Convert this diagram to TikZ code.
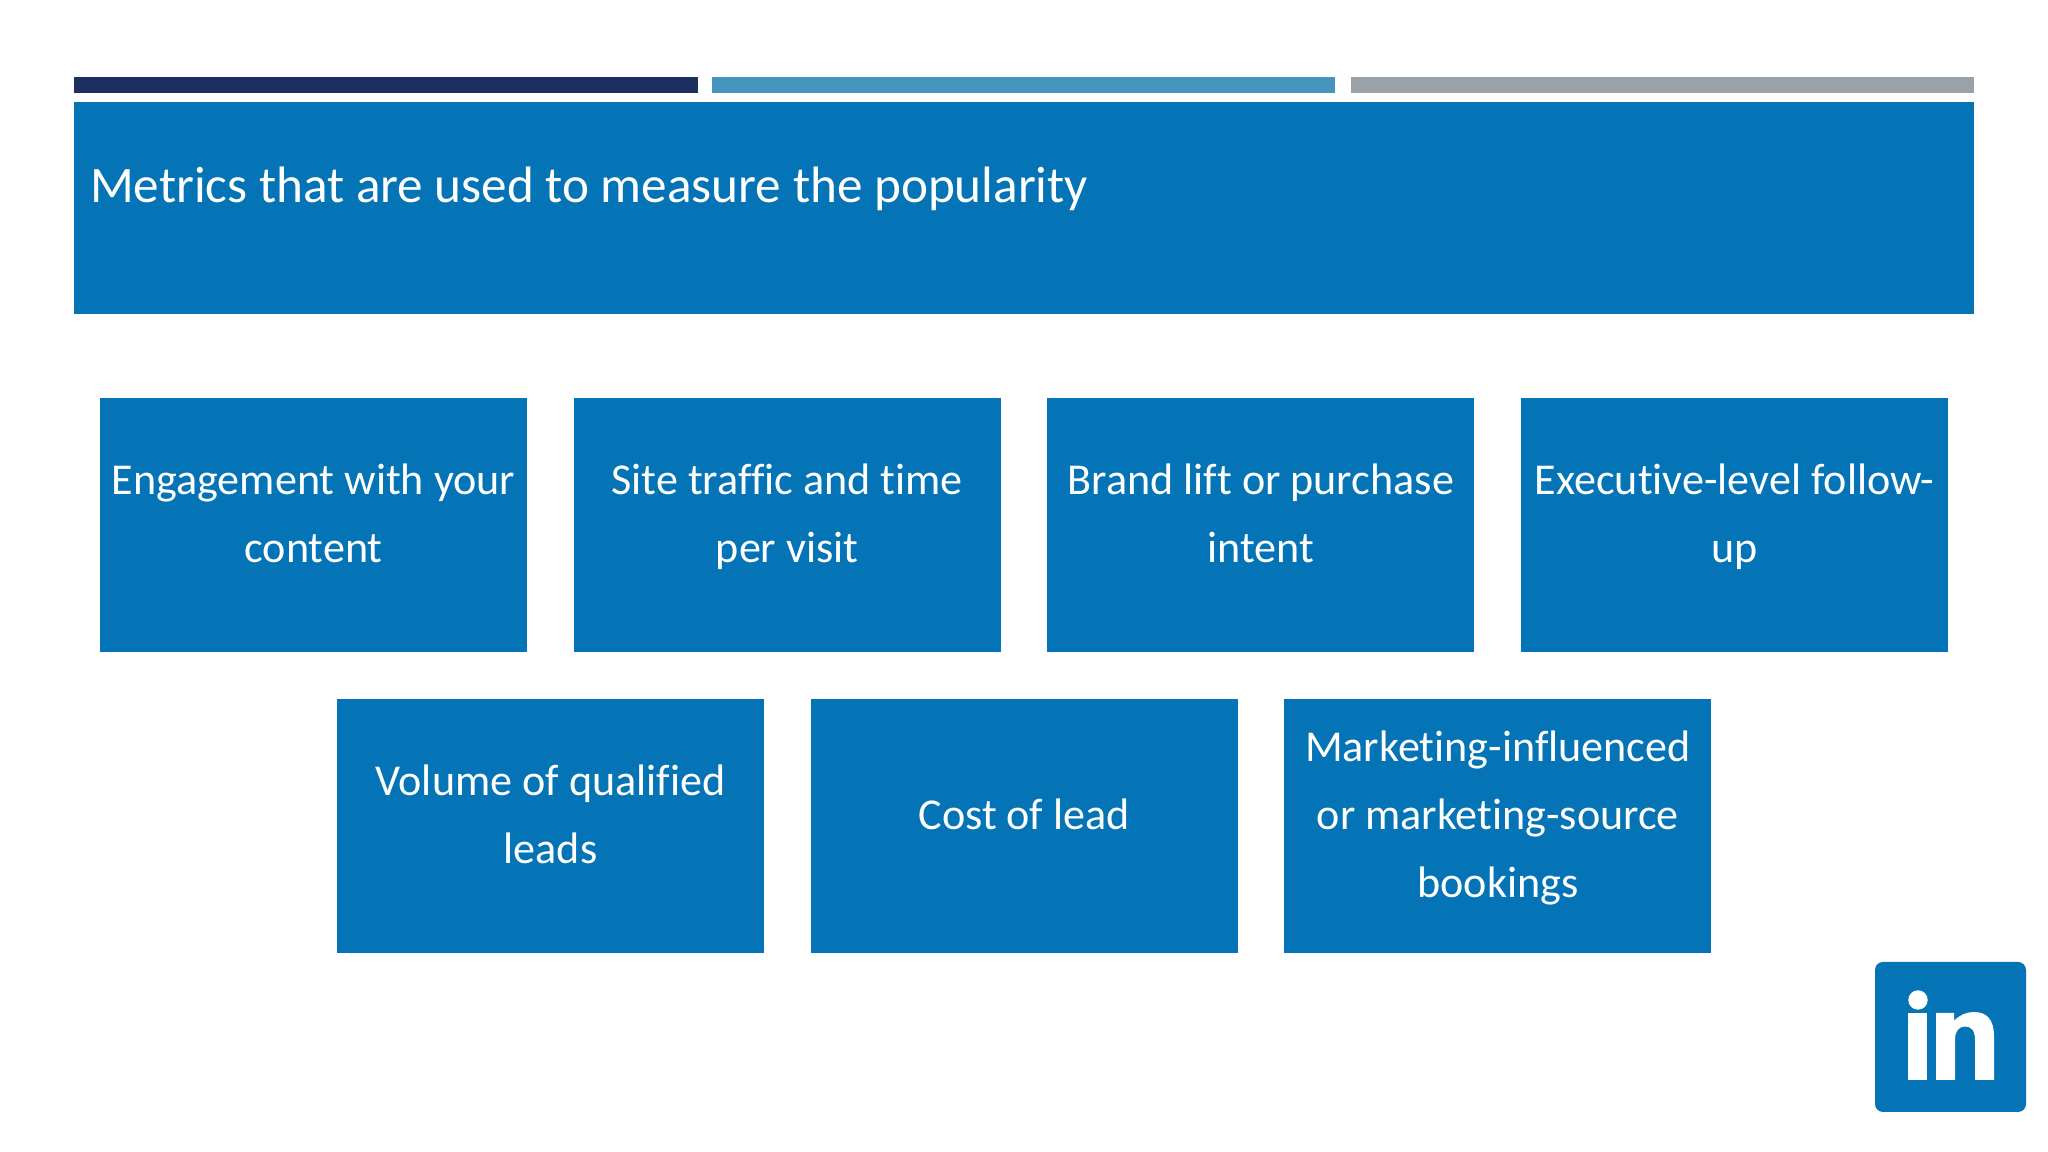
\documentclass[tikz,border=0pt]{standalone}
\usepackage{fontspec}
\setmainfont{Carlito}[Ligatures=CommonOff]
\usetikzlibrary{calc, positioning}
\definecolor{boxblue}{HTML}{0474B6}
\definecolor{bardark}{HTML}{1C2F5F}
\definecolor{barmid}{HTML}{4594BE}
\definecolor{bargray}{HTML}{9AA2A9}
\tikzset{
  bar/.style = {fill, inner sep=0pt, outer sep=0pt, minimum width=6.23cm, minimum height=0.16cm},
  metric/.style = {fill=boxblue, text=white, inner sep=0pt, outer sep=0pt, minimum width=4.27cm, minimum height=2.54cm,
    text width=4.27cm, align=flush center, font=\fontsize{12.55}{19.4}\selectfont,
    execute at begin node={\strut},
    execute at end node={\strut\par\vspace{0.2cm}}}
}

\begin{document}
\begin{tikzpicture}
  \useasboundingbox (0,0) rectangle (20.48,11.52);

  \path (0.745,10.67) node[bar, bardark, anchor=west] (bara) {}
      ++(6.375,0) node[bar, barmid, anchor=west] (barb) {}
      ++(6.385,0) node[bar, bargray, anchor=west] (barc) {};

  \node[fill=boxblue, inner sep=0pt, outer sep=0pt, minimum width=18.99cm, minimum height=2.125cm, anchor=north west] (title) at (0.745,10.5) {};
  \node[text=white, inner sep=0pt, anchor=base west, font=\fontsize{14.57}{17}\selectfont] (titletext)
    at ($(title.north west)+(0.15,-1.01)$) {Metrics that are used to measure the popularity};

  \node[metric, anchor=north west] (eng) at (1.0,7.54) {Engagement with your\\content};
  \node[metric, right=0.467 of eng] (traf) {Site traffic and time\\per visit};
  \node[metric, right=0.467 of traf] (brand) {Brand lift or purchase\\intent};
  \node[metric, right=0.467 of brand] (exec) {Executive-level follow-\\up};

  \node[metric, anchor=north west] (vol) at (3.37,4.53) {Volume of qualified\\leads};
  \node[metric, right=0.467 of vol] (cost) {Cost of lead};
  \node[metric, right=0.467 of cost] (mkt) {Marketing-influenced\\or marketing-source\\bookings};

  % logo
  \node[fill=boxblue, rounded corners=0.08cm, inner sep=0pt, outer sep=0pt, minimum width=1.51cm, minimum height=1.5cm, anchor=north west] (logo) at (18.75,1.9) {};
  \begin{scope}[shift={(logo.north west)}, white]
    \fill (0.43,-0.38) circle (0.097);
    \fill (0.333,-0.51) rectangle (0.523,-1.18);
    \fill (0.61,-1.18) -- (0.61,-0.51) -- (0.79,-0.51) -- (0.79,-0.59)
      .. controls (0.84,-0.53) and (0.92,-0.50) .. (0.99,-0.50)
      .. controls (1.12,-0.50) and (1.19,-0.58) .. (1.19,-0.74)
      -- (1.19,-1.18) -- (1.0,-1.18) -- (1.0,-0.78)
      .. controls (1.0,-0.68) and (0.96,-0.645) .. (0.90,-0.645)
      .. controls (0.84,-0.645) and (0.80,-0.69) .. (0.80,-0.78)
      -- (0.80,-1.18) -- cycle;
  \end{scope}
\end{tikzpicture}
\end{document}
